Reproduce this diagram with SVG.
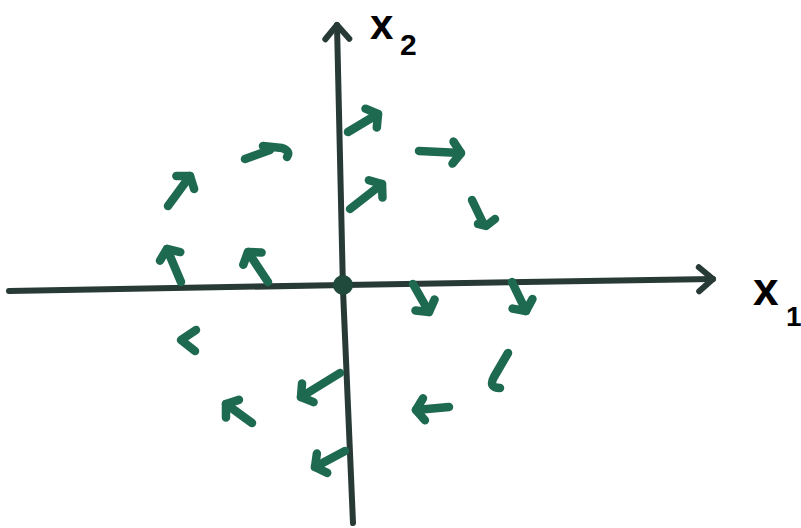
<svg xmlns="http://www.w3.org/2000/svg" width="801" height="528" viewBox="0 0 801 528">
<style>
.axis{fill:none;stroke:#283a36;stroke-width:6;stroke-linecap:round;stroke-linejoin:round}
.vec{fill:none;stroke:#1d6a50;stroke-width:8.5;stroke-linecap:round;stroke-linejoin:round}
.lbl{font-family:"Liberation Sans",Arial,sans-serif;font-weight:bold;fill:#000}
</style>
<defs>
<marker id="ah" markerUnits="userSpaceOnUse" orient="auto" overflow="visible" markerWidth="1" markerHeight="1">
<path d="M-8,-11 L0,0 L-8,11" fill="none" stroke="#1d6a50" stroke-width="8.5" stroke-linecap="round" stroke-linejoin="round"/>
</marker>
<marker id="axh" markerUnits="userSpaceOnUse" orient="auto" overflow="visible" markerWidth="1" markerHeight="1">
<path d="M-14,-12 L0,0 L-14,12" fill="none" stroke="#283a36" stroke-width="6" stroke-linecap="round" stroke-linejoin="round"/>
</marker>
</defs>
<g id="axes">
<path class="axis" d="M9,291 L345,285 L713,279" marker-end="url(#axh)"/>
<path class="axis" d="M353,523 L343,290 L337,25" marker-end="url(#axh)"/>
<circle cx="343" cy="285" r="10" fill="#1f4a3c"/>
</g>
<g id="labels">
<text class="lbl" x="370" y="39" font-size="42">x</text>
<text class="lbl" x="400" y="55" font-size="30">2</text>
<text class="lbl" x="753" y="305" font-size="46">x</text>
<text class="lbl" x="786" y="326" font-size="28">1</text>
</g>
<g id="vectors">
<path class="vec" d="M348,132 L378,114" marker-end="url(#ah)"/>
<path class="vec" d="M350,209 L382,184" marker-end="url(#ah)"/>
<path class="vec" d="M419,151 L461,153" marker-end="url(#ah)"/>
<path class="vec" d="M472,200 L484,225 M478,224 L486,226 L495,219"/>
<path class="vec" d="M245,159 L270,150 M263,146 L282,148 Q291,151 287,157"/>
<path class="vec" d="M168,206 L190,176" marker-end="url(#ah)"/>
<path class="vec" d="M181,282 L167,249" marker-end="url(#ah)"/>
<path class="vec" d="M268,282 L248,252" marker-end="url(#ah)"/>
<path class="vec" d="M413,284 L429,312" marker-end="url(#ah)"/>
<path class="vec" d="M512,282 L526,311" marker-end="url(#ah)"/>
<path class="vec" d="M508,353 L494,377 Q488,388 500,388"/>
<path class="vec" d="M449,407 L416,410" marker-end="url(#ah)"/>
<path class="vec" d="M340,373 L301,397" marker-end="url(#ah)"/>
<path class="vec" d="M345,451 L315,467" marker-end="url(#ah)"/>
<path class="vec" d="M252,423 L226,404" marker-end="url(#ah)"/>
<path class="vec" d="M196,330 L181,340 L195,351"/>
</g>
</svg>
